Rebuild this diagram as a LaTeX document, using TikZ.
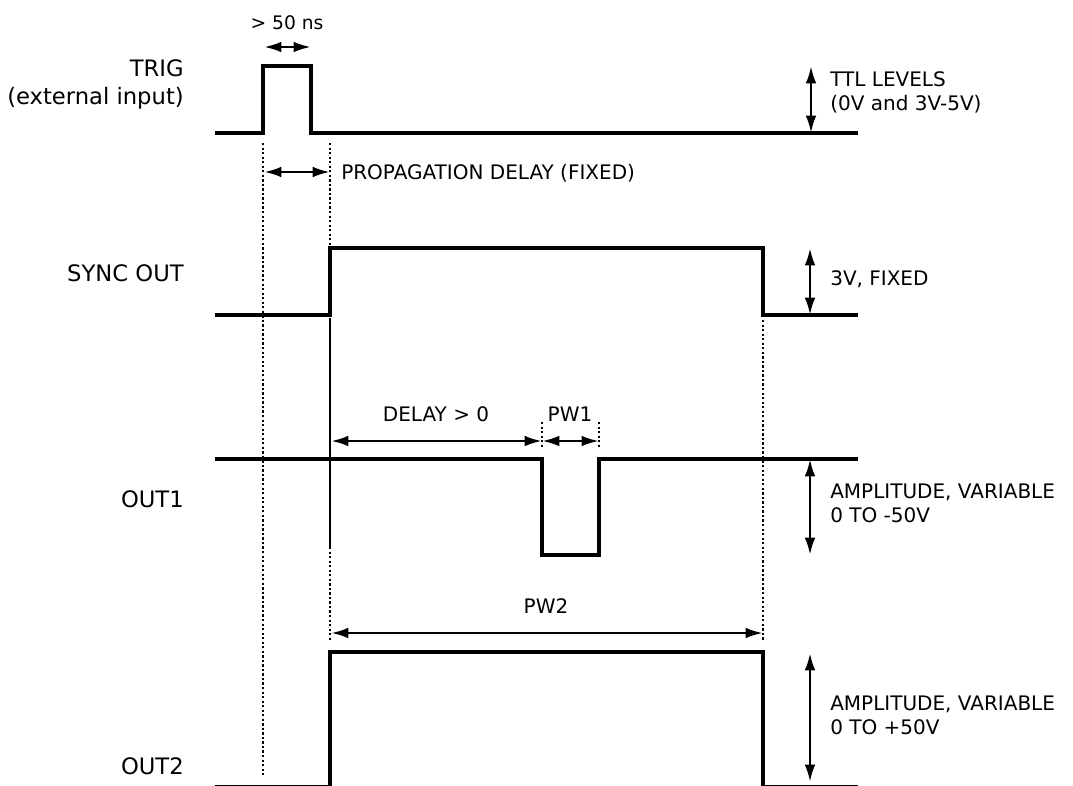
\documentclass[tikz,border=0pt]{standalone}
\usepackage{fontspec}
\setmainfont{DejaVu Sans}
\usetikzlibrary{arrows.meta}

\begin{document}
\begin{tikzpicture}[x=0.75pt,y=0.75pt,yscale=-1,xscale=1,
  wave/.style={line width=3.5pt, line join=miter},
  dimline/.style={line width=2pt, {Latex[length=13pt,width=8pt]}-{Latex[length=13pt,width=8pt]}},
  guide/.style={line width=2pt, dash pattern=on 1.7pt off 1.7pt},
  signame/.style={font=\fontsize{17}{18}\selectfont, inner sep=0pt, align=right, anchor=east},
  note/.style={font=\fontsize{15}{18}\selectfont, inner sep=0pt, align=left, anchor=west},
  midnote/.style={font=\fontsize{15}{18}\selectfont, inner sep=0pt}]
\useasboundingbox (0,0) rectangle (1073,785);

%Waveform TRIG
\draw [wave] (215,133) -- (263,133) -- (263,66) -- (311,66) -- (311,133) -- (858,133) ;
%Waveform SYNC OUT
\draw [wave] (215,315) -- (330,315) -- (330,248) -- (763,248) -- (763,315) -- (858,315) ;
%Waveform OUT1
\draw [wave] (215,459) -- (542,459) -- (542,555) -- (599,555) -- (599,459) -- (858,459) ;
%Waveform OUT2
\draw [wave] (215,787) -- (330,787) -- (330,652) -- (763,652) -- (763,787) -- (858,787) ;

%Dotted guides
\draw [guide] (263,143) -- (263,776) ;
\draw [guide] (330,143) -- (330,245) ;
\draw [line width=1.3pt] (330,318) -- (330,547) ;
\draw [guide] (330,547) -- (330,641) ;
\draw [guide] (763,320) -- (763,641) ;
\draw [guide] (542,422) -- (542,449) ;
\draw [guide] (599,422) -- (599,449) ;

%Dimension points
\coordinate (nsL) at (264,47) ;
\coordinate (nsR) at (311,47) ;
\coordinate (propL) at (264,172) ;
\coordinate (propR) at (330,172) ;
\coordinate (ttlTop) at (811,66) ;
\coordinate (ttlBot) at (811,133) ;
\coordinate (syncTop) at (810,248) ;
\coordinate (syncBot) at (810,315) ;
\coordinate (delayL) at (331,441) ;
\coordinate (delayR) at (542,441) ;
\coordinate (pwoneR) at (599,441) ;
\coordinate (ampOneTop) at (810,459) ;
\coordinate (ampOneBot) at (810,555) ;
\coordinate (pwtwoL) at (331,633) ;
\coordinate (pwtwoR) at (763,633) ;
\coordinate (ampTwoTop) at (810,653) ;
\coordinate (ampTwoBot) at (810,782) ;

%Dimension arrows
\draw [dimline] (nsL) -- (nsR) ;
\draw [dimline] (propL) -- (propR) ;
\draw [dimline] (ttlTop) -- (ttlBot) ;
\draw [dimline] (syncTop) -- (syncBot) ;
\draw [dimline] (delayL) -- (delayR) ;
\draw [dimline] (delayR) -- (pwoneR) ;
\draw [dimline] (ampOneTop) -- (ampOneBot) ;
\draw [dimline] (pwtwoL) -- (pwtwoR) ;
\draw [dimline] (ampTwoTop) -- (ampTwoBot) ;

%Signal names
\node [signame] (trigName) at (184,84) {TRIG\\[3pt](external input)} ;
\node [signame] (syncName) at (184,273) {SYNC OUT} ;
\node [signame] (oneName) at (184,499) {OUT1} ;
\node [signame] (twoName) at (184,766) {OUT2} ;

%Notes
\node [midnote, font=\fontsize{14}{15}\selectfont] (nsText) at (287,23) {> 50 ns} ;
\node [note] (ttlText) at (830,92) {TTL LEVELS\\(0V and 3V-5V)} ;
\node [note] (propText) at (341,173) {PROPAGATION DELAY (FIXED)} ;
\node [note] (syncText) at (830,279) {3V, FIXED} ;
\node [midnote] (delayText) at (436,414) {DELAY > 0} ;
\node [midnote] (pwoneText) at (570,414) {PW1} ;
\node [note] (ampOneText) at (830,503) {AMPLITUDE, VARIABLE\\0 TO -50V} ;
\node [midnote] (pwtwoText) at (546,606) {PW2} ;
\node [note] (ampTwoText) at (830,715) {AMPLITUDE, VARIABLE\\0 TO +50V} ;

\end{tikzpicture}
\end{document}
